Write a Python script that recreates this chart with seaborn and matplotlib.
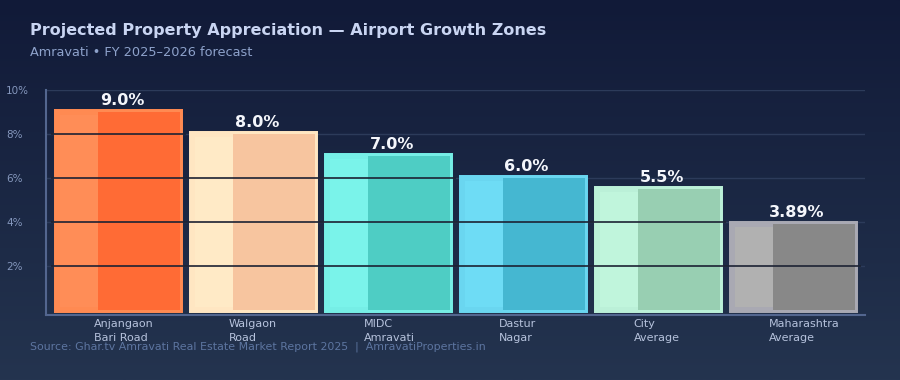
import numpy as np
import pandas as pd
import seaborn as sns
import matplotlib.pyplot as plt
import matplotlib.transforms as mtransforms
from matplotlib.colors import LinearSegmentedColormap

# Datos del gráfico
zones = ["Anjangaon\nBari Road", "Walgaon\nRoad", "MIDC\nAmravati",
         "Dastur\nNagar", "City\nAverage", "Maharashtra\nAverage"]
growth = [9.0, 8.0, 7.0, 6.0, 5.5, 3.89]
value_labels = ["9.0%", "8.0%", "7.0%", "6.0%", "5.5%", "3.89%"]
light_colors = ["#ff8d57", "#ffeac6", "#7af3ea", "#6edcf5", "#c0f5dc", "#b1b1b1"]
edge_colors = ["#ff8a52", "#ffe6c2", "#76eee6", "#6ad6f0", "#bbf0d8", "#a9a9b3"]
dark_colors = ["#ff6b35", "#f7c59f", "#4ecdc4", "#45b7d1", "#98cfb2", "#888888"]
y_ticks = [2, 4, 6, 8, 10]
y_tick_labels = ["2%", "4%", "6%", "8%", "10%"]

df = pd.DataFrame({"zone": zones, "growth": growth})

sns.set_theme(style="dark")
plt.rcParams["font.family"] = ["DejaVu Sans"]

fig = plt.figure(figsize=(9, 3.8), dpi=100)

# Fondo con degradado
bg = fig.add_axes([0, 0, 1, 1], zorder=-1)
grad = np.linspace(0, 1, 256).reshape(-1, 1)
cmap_bg = LinearSegmentedColormap.from_list("bg", ["#111a38", "#24344f"])
bg.imshow(grad, aspect="auto", cmap=cmap_bg, extent=[0, 1, 0, 1])
bg.set_axis_off()

ax = fig.add_axes([46 / 900, 65 / 380, 819 / 900, 225 / 380])
ax.set_facecolor("none")

sns.barplot(data=df, x="zone", y="growth", hue="zone",
            palette=dict(zip(zones, light_colors)), width=0.91,
            legend=False, ax=ax, zorder=2, saturation=1, linewidth=4.3)
for p, c in zip(ax.patches, edge_colors):
    p.set_edgecolor(c)

light_patches = list(ax.patches)

# Parte oscura de cada barra
for p, v, c in zip(light_patches, growth, dark_colors):
    w = p.get_width()
    ax.bar(p.get_x() + w / 3, v, width=2 * w / 3, align="edge",
           color=c, linewidth=0, zorder=3)

# Líneas de cuadrícula: claras sobre el fondo, oscuras sobre las barras
for t in y_ticks:
    ax.axhline(t, color="#2c3b5a", linewidth=1, zorder=1)
for p, v in zip(light_patches, growth):
    inside = [t for t in y_ticks if t < v]
    ax.hlines(inside, p.get_x() - 0.045, p.get_x() + p.get_width() + 0.045,
              color="#1c2233", linewidth=1.2, zorder=4)

# Etiquetas de valor
for p, v, lab in zip(light_patches, growth, value_labels):
    ax.annotate(lab, (p.get_x() + p.get_width() / 2, v), xytext=(3, 7),
                textcoords="offset pixels", ha="center", va="baseline",
                fontsize=11.5, fontweight="bold", color="#f4f6fb", zorder=5)

ax.set_xlim(-0.54, 5.53)
ax.set_ylim(-0.23, 10)
ax.set_xlabel("")
ax.set_ylabel("")
ax.set_yticks(y_ticks, y_tick_labels)
ax.tick_params(axis="y", length=0, pad=28.8, labelsize=7.5, labelcolor="#8597bd")
for lab in ax.get_yticklabels():
    lab.set_ha("left")
ax.set_xticks(range(len(zones)), zones)
ax.tick_params(axis="x", length=0, pad=3, labelsize=8, labelcolor="#b6c2dc")
offset = mtransforms.ScaledTranslation(-25 / 100, 0, fig.dpi_scale_trans)
for lab in ax.get_xticklabels():
    lab.set_ha("left")
    lab.set_multialignment("left")
    lab.set_linespacing(1.45)
    lab.set_transform(lab.get_transform() + offset)
ax.grid(False)

for side in ["top", "right"]:
    ax.spines[side].set_visible(False)
for side in ["left", "bottom"]:
    ax.spines[side].set_visible(True)
    ax.spines[side].set_color("#53668f")
    ax.spines[side].set_linewidth(1.5)

fig.text(30 / 900, 1 - 30 / 380, "Projected Property Appreciation — Airport Growth Zones",
         fontsize=11.5, fontweight="bold", color="#c9d5f2", va="center")
fig.text(30 / 900, 1 - 53 / 380, "Amravati • FY 2025–2026 forecast",
         fontsize=9.3, color="#8ea2cb", va="center")
fig.text(30 / 900, 1 - 347 / 380,
         "Source: Ghar.tv Amravati Real Estate Market Report 2025  |  AmravatiProperties.in",
         fontsize=7.9, color="#5d75a0", va="center")

fig.savefig("out.png", dpi=100)
